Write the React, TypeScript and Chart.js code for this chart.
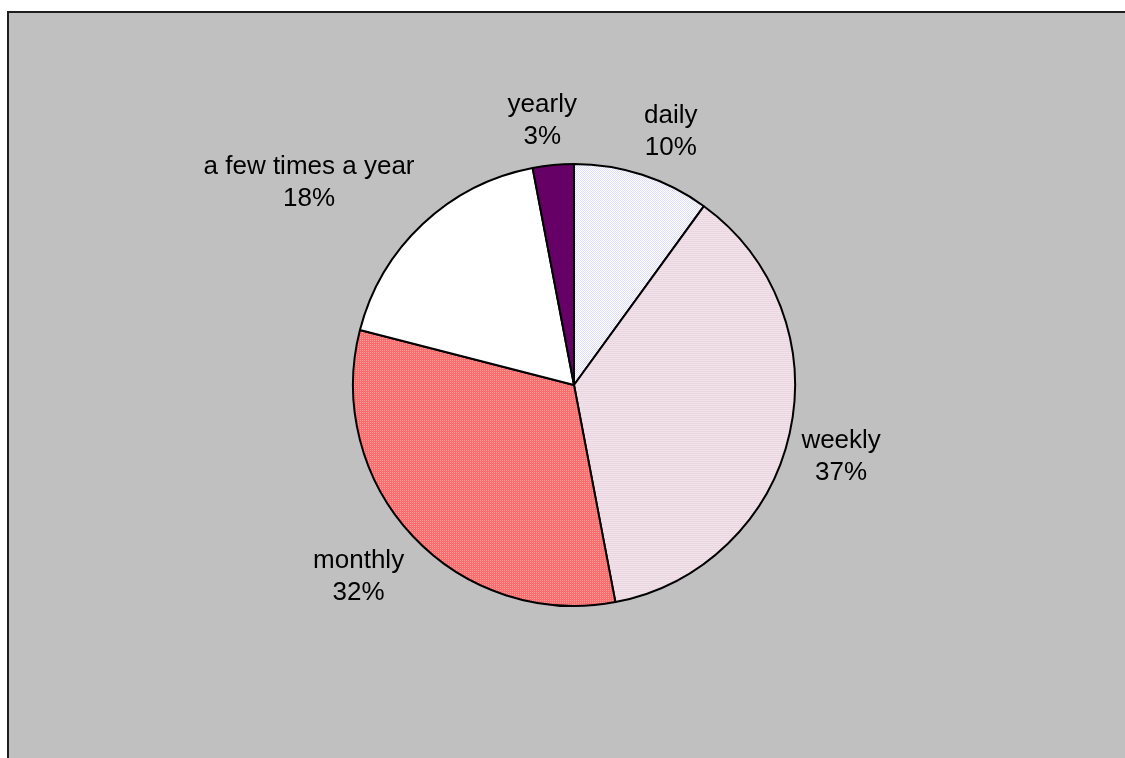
import React, { useEffect, useRef } from "react";
import { Chart, registerables } from "chart.js";

Chart.register(...registerables);

const categories = ["daily", "weekly", "monthly", "a few times a year", "yearly"];
const shares = [10, 37, 32, 18, 3];
const percentLabels = ["10%", "37%", "32%", "18%", "3%"];

function makePattern(cells: string[][]): CanvasPattern | string {
  const c = document.createElement("canvas");
  c.height = cells.length;
  c.width = cells[0].length;
  const ctx = c.getContext("2d");
  if (!ctx) return cells[0][0];
  cells.forEach((row, y) =>
    row.forEach((col, x) => {
      ctx.fillStyle = col;
      ctx.fillRect(x, y, 1, 1);
    })
  );
  const p = ctx.createPattern(c, "repeat");
  return p || cells[0][0];
}

const labelPlugin = {
  id: "outsideLabels",
  afterDatasetsDraw(chart: any) {
    const ctx = chart.ctx as CanvasRenderingContext2D;
    const meta = chart.getDatasetMeta(0);
    const fontSize = 26;
    const lineH = 32;
    const pad = 12;
    const k = 3;
    ctx.save();
    ctx.font = `${fontSize}px "Liberation Sans", Arial, sans-serif`;
    ctx.fillStyle = "#000000";
    ctx.textAlign = "center";
    ctx.textBaseline = "middle";
    meta.data.forEach((arc: any, i: number) => {
      const { x, y, startAngle, endAngle, outerRadius } = arc.getProps(
        ["x", "y", "startAngle", "endAngle", "outerRadius"],
        true
      );
      const mid = (startAngle + endAngle) / 2;
      const dx = Math.cos(mid);
      const dy = Math.sin(mid);
      const lines = [categories[i], percentLabels[i]];
      const w = Math.max(...lines.map((l) => ctx.measureText(l).width));
      const h = lines.length * lineH;
      const gx = Math.max(-1, Math.min(1, dx * k));
      const gy = Math.max(-1, Math.min(1, dy * k));
      const px = x + dx * (outerRadius + pad);
      const py = y + dy * (outerRadius + pad);
      const cx = px + gx * (w / 2);
      const cy = py + gy * (h / 2);
      lines.forEach((l, n) => {
        ctx.fillText(l, cx, cy - h / 2 + lineH * (n + 0.5));
      });
    });
    ctx.restore();
  },
};

export default function App() {
  const canvasRef = useRef<HTMLCanvasElement | null>(null);

  useEffect(() => {
    const canvas = canvasRef.current;
    if (!canvas) return;
    const W = "#FFFFFF";
    const lav = "#DCDCFF";
    const colors = [
      makePattern([
        [lav, W],
        [W, lav],
      ]),
      makePattern([
        ["#F2E2EA", "#F2E2EA"],
        ["#EAD6E0", "#EAD6E0"],
      ]),
      makePattern([
        ["#FF9A9A", "#FF6C6C"],
        ["#FF6C6C", "#FF6C6C"],
      ]),
      "#FFFFFF",
      "#660066",
    ];
    const chart = new Chart(canvas, {
      type: "pie",
      data: {
        labels: categories,
        datasets: [
          {
            data: shares,
            backgroundColor: colors as any,
            borderColor: "#000000",
            borderWidth: 2,
          },
        ],
      },
      options: {
        animation: false,
        responsive: false,
        radius: 221,
        layout: { padding: { left: 23, top: 12, right: 0, bottom: 0 } },
        plugins: {
          legend: { display: false },
          tooltip: { enabled: false },
        },
      } as any,
      plugins: [labelPlugin],
    });
    return () => chart.destroy();
  }, []);

  return (
    <div
      style={{
        position: "fixed",
        left: 0,
        top: 0,
        width: 1125,
        height: 758,
        overflow: "hidden",
        background: "#FFFFFF",
      }}
    >
      <div
        style={{
          position: "absolute",
          left: 7,
          top: 11,
          width: 1200,
          height: 800,
          background: "#C0C0C0",
          borderLeft: "2px solid #1E1E1E",
          borderTop: "2px solid #1E1E1E",
        }}
      />
      <canvas
        ref={canvasRef}
        width={1125}
        height={758}
        style={{ position: "absolute", left: 0, top: 0, width: 1125, height: 758 }}
      />
    </div>
  );
}
